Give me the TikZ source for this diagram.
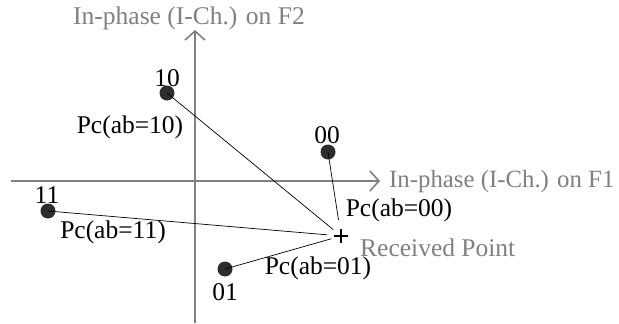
\documentclass[tikz,border=0pt]{standalone}
\usepackage{fontspec}
\setmainfont{Liberation Serif}
\usetikzlibrary{arrows.meta}
\definecolor{axisgray}{RGB}{128,128,128}
\definecolor{dotgray}{RGB}{45,45,45}
\tikzset{
  axis/.style={draw=axisgray, line width=1.8pt, -{Straight Barb[length=9pt,width=20pt,line width=1.6pt]}},
  axlabel/.style={text=axisgray, font=\fontsize{25.5}{28}\selectfont, inner sep=0pt},
  lab/.style={text=black, font=\fontsize{25.5}{28}\selectfont, inner sep=0pt},
  sym/.style={circle, fill=dotgray, inner sep=0pt, minimum size=15pt},
  conn/.style={draw=black, line width=0.7pt, shorten >=10pt},
  crossmark/.style={draw=black, line width=1.5pt},
}
\begin{document}
\begin{tikzpicture}[x=1pt,y=-1pt]
\useasboundingbox (0,0) rectangle (619,324);
% axes
\coordinate (vbot) at (195,323);
\coordinate (vtop) at (195,30);
\coordinate (hleft) at (11,181);
\coordinate (hright) at (380,181);
\draw[axis] (vbot) -- (vtop);
\draw[axis] (hleft) -- (hright);
\node[axlabel] (f2) at (189,18) {In-phase (I-Ch.) on F2};
\node[axlabel, font=\fontsize{24.8}{28}\selectfont, anchor=west] (f1) at (389,182) {In-phase (I-Ch.) on F1};
% received point
\coordinate (r) at (341,236);
\draw[crossmark] ([xshift=-7pt]r) -- ([xshift=7pt]r) ([yshift=-7pt]r) -- ([yshift=7pt]r);
\node[axlabel, anchor=west] (rpl) at (360,248) {Received Point};
% constellation points
\node[sym] (p10) at (167,93) {};
\node[sym] (p00) at (328,152) {};
\node[sym] (p11) at (48,211) {};
\node[sym] (p01) at (225,269) {};
\node[lab] (l10) at (167,78) {10};
\node[lab] (l00) at (327,135) {00};
\node[lab] (l11) at (47,195) {11};
\node[lab] (l01) at (225,292) {01};
% connectors
\draw[conn] (p10.center) -- (r);
\draw[conn, shorten >=16pt] (p00.center) -- (r);
\draw[conn, shorten >=14pt] (p11.center) -- (r);
\draw[conn] (p01.center) -- (r);
% probability labels
\node[lab] (pc10) at (130,127) {Pc(ab=10)};
\node[lab] (pc00) at (399,210) {Pc(ab=00)};
\node[lab] (pc11) at (113,232) {Pc(ab=11)};
\node[lab] (pc01) at (318,268) {Pc(ab=01)};
\end{tikzpicture}
\end{document}
